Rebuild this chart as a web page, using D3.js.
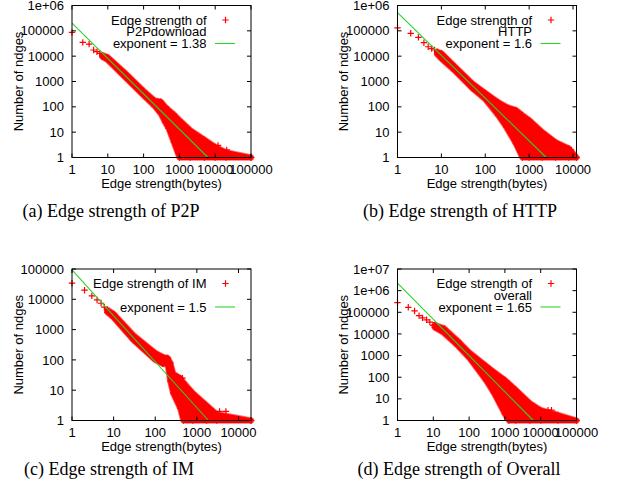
<!DOCTYPE html>
<html><head><meta charset="utf-8">
<script src="https://cdn.jsdelivr.net/npm/d3@7"></script>
<style>
body{margin:0;background:#fff}
svg{display:block}
.sans{font-family:"Liberation Sans",Arial,Helvetica,sans-serif}
.serif{font-family:"Liberation Serif","Times New Roman",serif}
</style>
</head><body>
<svg id="chart" width="619" height="493"></svg>
<script>
// ---------- DATA ----------
// Panel (a) P2P download
const p2pSparseX = [1, 2, 3, 4, 5, 6];
const p2pSparseY = [87000, 35000, 30000, 17500, 15000, 13000];
const p2pBandX  = [7, 10, 30, 100, 200, 300, 400, 500, 700, 1000, 2000, 5000, 10000, 20000, 100000];
const p2pBandHi = [11000, 9000, 2200, 420, 180, 160, 100, 75, 50, 30, 12, 5, 2.6, 1.6, 1];
const p2pBandLo = [9500, 7000, 1500, 280, 110, 55, 25, 14, 4, 1, 1, 1, 1, 1, 1];
const p2pOutX = [5800, 12000, 21000];
const p2pOutY = [3, 3, 2];
const p2pFitX = [1, 6300];
const p2pFitY = [200000, 1];

// Panel (b) HTTP
const httpSparseX = [1, 2, 3, 4, 5, 6, 7];
const httpSparseY = [132000, 80000, 55000, 34000, 23500, 20000, 17500];
const httpBandX  = [8, 10, 20, 50, 100, 200, 300, 500, 700, 1000, 2000, 4000, 8000, 12000];
const httpBandHi = [15000, 13000, 4000, 850, 350, 150, 100, 74, 47, 30, 10, 4, 2.3, 1];
const httpBandLo = [12000, 8000, 2700, 550, 200, 45, 16, 3.5, 1, 1, 1, 1, 1, 1];
const httpOutX = [3000, 4500, 7000, 9000];
const httpOutY = [3, 3, 2, 2];
const httpFitX = [1, 2450];
const httpFitY = [520000, 1];

// Panel (c) IM
const imSparseX = [1, 2, 3, 4, 5, 6];
const imSparseY = [34000, 20000, 13000, 9500, 7400, 5500];
const imBandX  = [7, 10, 30, 100, 150, 200, 230, 270, 400, 475, 800, 1700, 3000, 20000];
const imBandHi = [4500, 3300, 650, 170, 125, 115, 80, 35, 25, 18, 8, 3.2, 1.6, 1];
const imBandLo = [3800, 2500, 450, 100, 75, 70, 20, 8, 2.5, 1, 1, 1, 1, 1];
const imOutX = [2500, 3500, 5000, 450];
const imOutY = [2, 2, 2, 25];
const imFitX = [1, 1900];
const imFitY = [93000, 1];

// Panel (d) Overall
const allSparseX = [1, 2, 3, 4, 5, 6.5, 8, 10];
const allSparseY = [280000, 170000, 115000, 70000, 55000, 45000, 35000, 25000];
const allBandX  = [11, 20, 50, 100, 300, 500, 1000, 1300, 2000, 5000, 10000, 30000, 100000];
const allBandHi = [26000, 18000, 4500, 1400, 330, 170, 74, 50, 26, 6.2, 3, 1.8, 1];
const allBandLo = [20000, 11000, 2700, 800, 70, 18, 2, 1, 1, 1, 1, 1, 1];
const allOutX = [16000, 25000, 20000];
const allOutY = [3, 2, 3];
const allFitX = [1, 6200];
const allFitY = [2200000, 1];

// Axis ticks / labels
const xTicks5 = [1, 10, 100, 1000, 10000, 100000];
const xLabels5 = ["1", "10", "100", "1000", "10000", "100000"];
const xTicks4 = [1, 10, 100, 1000, 10000];
const xLabels4 = ["1", "10", "100", "1000", "10000"];
const yTicks5 = [1, 10, 100, 1000, 10000, 100000];
const yLabels5 = ["1", "10", "100", "1000", "10000", "100000"];
const yTicks6 = [1, 10, 100, 1000, 10000, 100000, 1000000];
const yLabels6 = ["1", "10", "100", "1000", "10000", "100000", "1e+06"];
const yTicks7 = [1, 10, 100, 1000, 10000, 100000, 1000000, 10000000];
const yLabels7 = ["1", "10", "100", "1000", "10000", "100000", "1e+06", "1e+07"];

// Texts
const xTitle = "Edge strength(bytes)";
const yTitle = "Number of ndges";
const legendA = ["Edge strength of", "P2Pdownload"];
const legendB = ["Edge strength of", "HTTP"];
const legendC = ["Edge strength of IM"];
const legendD = ["Edge strength of", "overall"];
const fitLabels = ["exponent = 1.38", "exponent = 1.6", "exponent = 1.5", "exponent = 1.65"];
const captions = ["(a) Edge strength of P2P", "(b) Edge strength of HTTP", "(c) Edge strength of IM", "(d) Edge strength of Overall"];

// ---------- DRAWING ----------
const svg = d3.select("#chart");
const RED = "#ff0000", GREEN = "#2ad42a";
const FS = 13;

function zip(xs, ys) { return xs.map((x, i) => ({x: x, y: ys[i]})); }

function text(g, x, y, s, anchor, size, cls, rot) {
  const t = g.append("text").attr("class", cls || "sans")
    .attr("font-size", size || FS).attr("text-anchor", anchor || "start")
    .attr("fill", "#000").text(s);
  if (rot) t.attr("transform", `translate(${x},${y}) rotate(${rot})`);
  else t.attr("x", x).attr("y", y);
  return t;
}

function plus(g, px, py) {
  g.append("path").attr("d", `M${px-3.2},${py}H${px+3.2}M${px},${py-3.2}V${py+3.2}`)
    .attr("stroke", RED).attr("stroke-width", 1.2).attr("fill", "none");
}

function panel(o) {
  const g = svg.append("g");
  const x = d3.scaleLog().domain(o.xDom).range([o.l, o.r]);
  const y = d3.scaleLog().domain(o.yDom).range([o.b, o.t]);

  // dense band of overlapping markers
  const band = o.bandX.map((v, i) => ({x: v, hi: o.bandHi[i], lo: o.bandLo[i]}));
  const area = d3.area().x(d => x(d.x)).y0(d => y(d.lo)).y1(d => y(d.hi));
  g.append("path").attr("d", area(band)).attr("fill", RED)
    .attr("stroke", "#ff7070").attr("stroke-width", 6.5).attr("stroke-linejoin", "round");
  g.append("path").attr("d", area(band)).attr("fill", RED)
    .attr("stroke", RED).attr("stroke-width", 4.8).attr("stroke-linejoin", "round");
  band.forEach(d => { plus(g, x(d.x), y(d.hi)); plus(g, x(d.x), y(d.lo)); });

  // individual points
  zip(o.sparseX, o.sparseY).forEach(d => plus(g, x(d.x), y(d.y)));
  zip(o.outX, o.outY).forEach(d => plus(g, x(d.x), y(d.y)));

  // fit line
  const line = d3.line().x(d => x(d.x)).y(d => y(d.y));
  g.append("path").attr("d", line(zip(o.fitX, o.fitY))).attr("fill", "none")
    .attr("stroke", GREEN).attr("stroke-width", 1.1);

  // frame + ticks (inside, mirrored)
  g.append("rect").attr("x", o.l).attr("y", o.t).attr("width", o.r - o.l).attr("height", o.b - o.t)
    .attr("fill", "none").attr("stroke", "#000").attr("stroke-width", 1);
  const TL = 4;
  o.xTicks.forEach((v, i) => {
    const px = x(v);
    g.append("path").attr("d", `M${px},${o.b}V${o.b-TL}M${px},${o.t}V${o.t+TL}`).attr("stroke", "#000");
    text(g, px, o.b + 16.5, o.xLabels[i], "middle");
  });
  o.yTicks.forEach((v, i) => {
    const py = y(v);
    g.append("path").attr("d", `M${o.l},${py}H${o.l+TL}M${o.r},${py}H${o.r-TL}`).attr("stroke", "#000");
    text(g, o.l - 8, py + 4.6, o.yLabels[i], "end");
  });

  // axis titles
  text(g, (o.l + o.r) / 2, o.b + 30, xTitle, "middle");
  text(g, o.l - 54, (o.t + o.b) / 2, yTitle, "middle", FS, "sans", -90).attr("dy", "0.35em");

  // legend
  const lx = o.l + 134.5, rows = [o.t + 14.5, o.t + 26.3, o.t + 38];
  o.legend.forEach((s, i) => text(g, lx, rows[i] + 4.6, s, "end"));
  plus(g, o.l + 153.5, rows[0]);
  text(g, lx, rows[2] + 4.6, o.fitLabel, "end");
  g.append("path").attr("d", `M${o.l+143},${rows[2]}H${o.l+163}`).attr("stroke", GREEN).attr("stroke-width", 1.1);

  // caption
  text(g, o.capX, o.capY, o.caption, "middle", 18, "serif");
}

panel({l: 72, r: 251, t: 5.5, b: 157.5, xDom: [1, 100000], yDom: [1, 1000000],
  sparseX: p2pSparseX, sparseY: p2pSparseY, bandX: p2pBandX, bandHi: p2pBandHi, bandLo: p2pBandLo,
  outX: p2pOutX, outY: p2pOutY, fitX: p2pFitX, fitY: p2pFitY,
  xTicks: xTicks5, xLabels: xLabels5, yTicks: yTicks6, yLabels: yLabels6,
  legend: legendA, fitLabel: fitLabels[0], caption: captions[0], capX: 111, capY: 217});
panel({l: 397.5, r: 576.5, t: 5.5, b: 157.5, xDom: [1, 12000], yDom: [1, 1000000],
  sparseX: httpSparseX, sparseY: httpSparseY, bandX: httpBandX, bandHi: httpBandHi, bandLo: httpBandLo,
  outX: httpOutX, outY: httpOutY, fitX: httpFitX, fitY: httpFitY,
  xTicks: xTicks4, xLabels: xLabels4, yTicks: yTicks6, yLabels: yLabels6,
  legend: legendB, fitLabel: fitLabels[1], caption: captions[1], capX: 460, capY: 217});
panel({l: 72, r: 251, t: 269, b: 420.5, xDom: [1, 20000], yDom: [1, 100000],
  sparseX: imSparseX, sparseY: imSparseY, bandX: imBandX, bandHi: imBandHi, bandLo: imBandLo,
  outX: imOutX, outY: imOutY, fitX: imFitX, fitY: imFitY,
  xTicks: xTicks4, xLabels: xLabels4, yTicks: yTicks5, yLabels: yLabels5,
  legend: legendC, fitLabel: fitLabels[2], caption: captions[2], capX: 109, capY: 475});
panel({l: 397.5, r: 576.5, t: 269, b: 420.5, xDom: [1, 100000], yDom: [1, 10000000],
  sparseX: allSparseX, sparseY: allSparseY, bandX: allBandX, bandHi: allBandHi, bandLo: allBandLo,
  outX: allOutX, outY: allOutY, fitX: allFitX, fitY: allFitY,
  xTicks: xTicks5, xLabels: xLabels5, yTicks: yTicks7, yLabels: yLabels7,
  legend: legendD, fitLabel: fitLabels[3], caption: captions[3], capX: 459, capY: 475});
</script>
</body></html>
